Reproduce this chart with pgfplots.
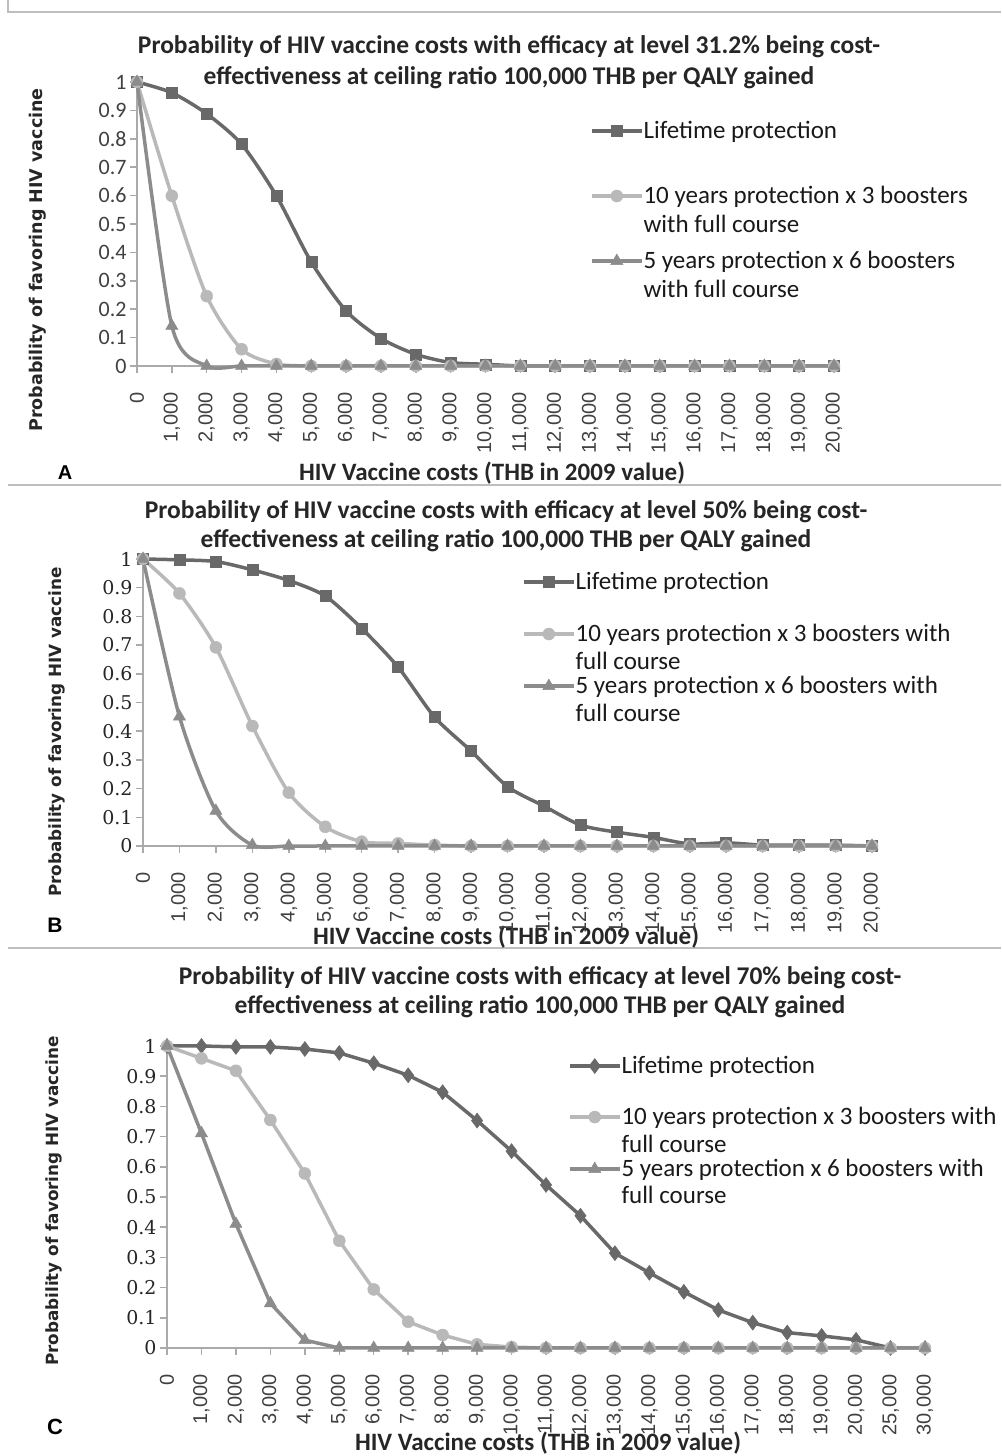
\documentclass[border=0pt]{standalone}
\usepackage{fontspec}
\setmainfont{Carlito}
\newfontfamily\arialf{Liberation Sans}
\newfontfamily\dvs{DejaVu Sans}
\newfontfamily\dvserif{DejaVu Serif}
\usepackage{pgfplots}
\pgfplotsset{compat=1.18}

\definecolor{cLife}{RGB}{105,105,105}
\definecolor{cTen}{RGB}{185,185,185}
\definecolor{cFive}{RGB}{140,140,140}
\definecolor{axgray}{RGB}{170,170,170}
\definecolor{framegray}{RGB}{190,190,190}

\newcommand\lgs[2]{\rule[-#2bp]{0pt}{\dimexpr#1bp+#2bp\relax}}

\pgfplotsset{
  panel/.style={
    scale only axis, anchor=south west, clip=false,
    axis lines*=left,
    axis line style={axgray, line width=1.5bp},
    tick style={axgray, line width=1.5bp},
    tick align=outside, major tick length=7bp,
    ymin=0, ymax=1,
    ytick={0,0.1,0.2,0.3,0.4,0.5,0.6,0.7,0.8,0.9,1},
    yticklabels={0,0.1,0.2,0.3,0.4,0.5,0.6,0.7,0.8,0.9,1},
    xticklabel style={rotate=90, anchor=east, font=\arialf\fontsize{20bp}{20bp}\selectfont, text=black!75},
    xticklabel shift=16bp,
    legend image code/.code={\draw[mark repeat=2,mark phase=2,##1] plot coordinates {(0bp,7bp) (25bp,7bp) (50bp,7bp)};},
    legend style={draw=none, fill=none, inner sep=0pt, outer sep=0pt, row sep=0pt, column sep=0bp,
      cells={anchor=base west},
      nodes={inner sep=0pt, anchor=base west, text height=, text depth=, font=\fontsize{25bp}{28bp}\selectfont, text=black!90},
      anchor=north west},
  },
  life/.style={cLife, line width=3.5bp, mark=square*, mark size=5.5bp, mark options={fill=cLife, draw=cLife, line width=0.5bp}},
  lifeC/.style={cLife, line width=3.5bp, mark=diamond*, mark size=7.5bp, mark options={fill=cLife, draw=cLife, line width=0.5bp}},
  ten/.style={cTen, line width=3.5bp, mark=*, mark size=6bp, mark options={fill=cTen, draw=cTen, line width=0.5bp}},
  five/.style={cFive, line width=3.5bp, mark=triangle*, mark size=7bp, mark options={fill=cFive, draw=cFive, line width=0.5bp}},
}

\begin{document}
\begin{tikzpicture}[x=1bp,y=1bp]
\useasboundingbox (0,0) rectangle (1001,1456);
% frames
\draw[framegray, line width=2bp] (8,1456) -- (8,1444) -- (1001,1444);
\draw[framegray, line width=2bp] (8,971) -- (1001,971);
\draw[framegray, line width=2bp] (8,508) -- (1001,508);

% ===================== Panel A =====================
\node[font=\bfseries\fontsize{25.5bp}{31bp}\selectfont, align=center, text=black!85] at (509,1393.5) {Probability of HIV vaccine costs with efficacy at level 31.2\% being cost-\\effectiveness at ceiling ratio 100,000 THB per QALY gained};
\node[rotate=90, font=\dvs\bfseries\fontsize{17.5bp}{20bp}\selectfont, text=black!85] at (38,1196) {Probability of favoring HIV vaccine};
\node[font=\bfseries\fontsize{25bp}{28bp}\selectfont, text=black!85] at (492,983) {HIV Vaccine costs (THB in 2009 value)};
\node[font=\arialf\bfseries\fontsize{20bp}{24bp}\selectfont] at (65,983) {A};

\begin{axis}[panel, at={(137bp,1090bp)}, width=697bp, height=284bp,
  xmin=0, xmax=20, xtick={0,...,20},
  xticklabels={0,{1,000},{2,000},{3,000},{4,000},{5,000},{6,000},{7,000},{8,000},{9,000},{10,000},{11,000},{12,000},{13,000},{14,000},{15,000},{16,000},{17,000},{18,000},{19,000},{20,000}},
  yticklabel style={font=\fontsize{22bp}{22bp}\selectfont, text=black!75},
  legend style={at={(axis description cs:0.650,0.866)}},
]
\addplot[life, smooth, tension=0.45] coordinates {(0,1)(1,0.962)(2,0.888)(3,0.781)(4,0.599)(5,0.366)(6,0.194)(7,0.097)(8,0.041)(9,0.012)(10,0.006)(11,0)(12,0)(13,0)(14,0)(15,0)(16,0)(17,0)(18,0)(19,0)(20,0)};
\addlegendentry{\lgs{18}{47}Lifetime protection}
\addplot[ten, smooth, tension=0.45] coordinates {(0,1)(1,0.599)(2,0.246)(3,0.059)(4,0.007)(5,0)(6,0)(7,0)(8,0)(9,0)(10,0)(11,0)(12,0)(13,0)(14,0)(15,0)(16,0)(17,0)(18,0)(19,0)(20,0)};
\addlegendentry{\lgs{18}{11}10 years protection x 3 boosters}
\addlegendimage{empty legend}
\addlegendentry{\lgs{18}{18}with full course}
\addplot[five, smooth, tension=0.45] coordinates {(0,1)(1,0.141)(2,0)(3,0)(4,0)(5,0)(6,0)(7,0)(8,0)(9,0)(10,0)(11,0)(12,0)(13,0)(14,0)(15,0)(16,0)(17,0)(18,0)(19,0)(20,0)};
\addlegendentry{\lgs{18}{11}5 years protection x 6 boosters}
\addlegendimage{empty legend}
\addlegendentry{\lgs{18}{6}with full course}
\end{axis}

% ===================== Panel B =====================
\node[font=\bfseries\fontsize{25.5bp}{29bp}\selectfont, align=center, text=black!85] at (506,930) {Probability of HIV vaccine costs with efficacy at level 50\% being cost-\\effectiveness at ceiling ratio 100,000 THB per QALY gained};
\node[rotate=90, font=\dvs\bfseries\fontsize{16.8bp}{20bp}\selectfont, text=black!85] at (57,724) {Probability of favoring HIV vaccine};
\node[font=\bfseries\fontsize{25bp}{28bp}\selectfont, text=black!85] at (506,519) {HIV Vaccine costs (THB in 2009 value)};
\node[font=\arialf\bfseries\fontsize{21bp}{24bp}\selectfont] at (55,531) {B};

\begin{axis}[panel, at={(143bp,610bp)}, width=729bp, height=287bp,
  xmin=0, xmax=20, xtick={0,...,20},
  xticklabels={0,{1,000},{2,000},{3,000},{4,000},{5,000},{6,000},{7,000},{8,000},{9,000},{10,000},{11,000},{12,000},{13,000},{14,000},{15,000},{16,000},{17,000},{18,000},{19,000},{20,000}},
  yticklabel style={font=\dvserif\fontsize{19bp}{19bp}\selectfont, text=black!85},
  legend style={at={(axis description cs:0.520,0.958)}},
]
\addplot[life, smooth, tension=0.45] coordinates {(0,1)(1,0.997)(2,0.991)(3,0.962)(4,0.925)(5,0.871)(6,0.758)(7,0.623)(8,0.449)(9,0.331)(10,0.207)(11,0.139)(12,0.073)(13,0.048)(14,0.030)(15,0.007)(16,0.011)(17,0.003)(18,0.003)(19,0.003)(20,0)};
\addlegendentry{\lgs{18}{34}Lifetime protection}
\addplot[ten, smooth, tension=0.45] coordinates {(0,1)(1,0.880)(2,0.692)(3,0.418)(4,0.186)(5,0.067)(6,0.015)(7,0.009)(8,0.003)(9,0)(10,0)(11,0)(12,0)(13,0)(14,0)(15,0)(16,0)(17,0)(18,0)(19,0)(20,0)};
\addlegendentry{\lgs{18}{10}10 years protection x 3 boosters with}
\addlegendimage{empty legend}
\addlegendentry{\lgs{18}{6}full course}
\addplot[five, smooth, tension=0.45] coordinates {(0,1)(1,0.451)(2,0.122)(3,0.003)(4,0)(5,0)(6,0)(7,0)(8,0)(9,0)(10,0)(11,0)(12,0)(13,0)(14,0)(15,0)(16,0)(17,0)(18,0)(19,0)(20,0)};
\addlegendentry{\lgs{18}{10}5 years protection x 6 boosters with}
\addlegendimage{empty legend}
\addlegendentry{\lgs{18}{6}full course}
\end{axis}

% ===================== Panel C =====================
\node[font=\bfseries\fontsize{25.5bp}{29bp}\selectfont, align=center, text=black!85] at (540,463.5) {Probability of HIV vaccine costs with efficacy at level 70\% being cost-\\effectiveness at ceiling ratio 100,000 THB per QALY gained};
\node[rotate=90, font=\dvs\bfseries\fontsize{16.8bp}{20bp}\selectfont, text=black!85] at (54,255) {Probability of favoring HIV vaccine};
\node[font=\bfseries\fontsize{25bp}{28bp}\selectfont, text=black!85] at (548,13) {HIV Vaccine costs (THB in 2009 value)};
\node[font=\arialf\bfseries\fontsize{22bp}{24bp}\selectfont] at (55,29) {C};

\begin{axis}[panel, at={(167bp,108bp)}, width=758bp, height=302bp,
  xmin=0, xmax=22, xtick={0,...,22},
  xticklabels={0,{1,000},{2,000},{3,000},{4,000},{5,000},{6,000},{7,000},{8,000},{9,000},{10,000},{11,000},{12,000},{13,000},{14,000},{15,000},{16,000},{17,000},{18,000},{19,000},{20,000},{25,000},{30,000}},
  yticklabel style={font=\dvserif\fontsize{19bp}{19bp}\selectfont, text=black!85},
  legend style={at={(axis description cs:0.529,0.970)}},
]
\addplot[lifeC] coordinates {(0,1)(1,1)(2,0.997)(3,0.997)(4,0.990)(5,0.977)(6,0.943)(7,0.903)(8,0.847)(9,0.753)(10,0.652)(11,0.540)(12,0.438)(13,0.314)(14,0.249)(15,0.186)(16,0.126)(17,0.084)(18,0.051)(19,0.040)(20,0.027)(21,0)(22,0)};
\addlegendentry{\lgs{18}{33}Lifetime protection}
\addplot[ten] coordinates {(0,1)(1,0.959)(2,0.918)(3,0.755)(4,0.578)(5,0.355)(6,0.194)(7,0.087)(8,0.043)(9,0.012)(10,0.003)(11,0)(12,0)(13,0)(14,0)(15,0)(16,0)(17,0)(18,0)(19,0)(20,0)(21,0)(22,0)};
\addlegendentry{\lgs{18}{10}10 years protection x 3 boosters with}
\addlegendimage{empty legend}
\addlegendentry{\lgs{18}{6}full course}
\addplot[five] coordinates {(0,1)(1,0.711)(2,0.411)(3,0.148)(4,0.026)(5,0)(6,0)(7,0)(8,0)(9,0)(10,0)(11,0)(12,0)(13,0)(14,0)(15,0)(16,0)(17,0)(18,0)(19,0)(20,0)(21,0)(22,0)};
\addlegendentry{\lgs{18}{9}5 years protection x 6 boosters with}
\addlegendimage{empty legend}
\addlegendentry{\lgs{18}{6}full course}
\end{axis}
\end{tikzpicture}
\end{document}
